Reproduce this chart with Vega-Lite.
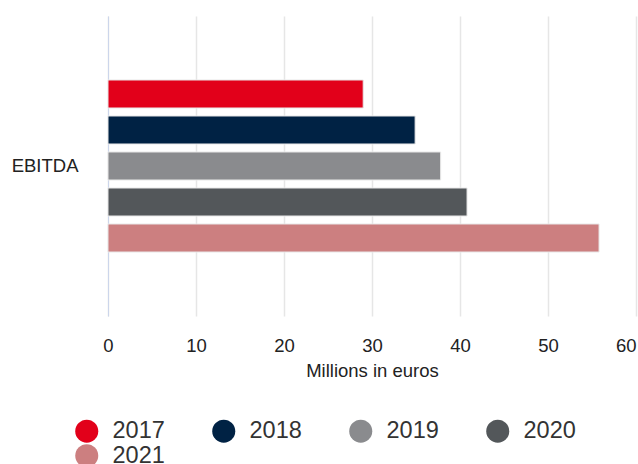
{
  "$schema": "https://vega.github.io/schema/vega-lite/v6.json",
  "width": 528,
  "height": 300,
  "autosize": {"type": "none"},
  "padding": {"left": 108, "top": 16, "right": 2, "bottom": 148},
  "background": "white",
  "config": {
    "font": "Liberation Sans",
    "view": {"stroke": null}
  },
  "data": {
    "values": [
      {"metric": "EBITDA", "year": "2017", "value": 29.0},
      {"metric": "EBITDA", "year": "2018", "value": 34.9},
      {"metric": "EBITDA", "year": "2019", "value": 37.8},
      {"metric": "EBITDA", "year": "2020", "value": 40.8},
      {"metric": "EBITDA", "year": "2021", "value": 55.8}
    ]
  },
  "mark": {"type": "bar", "stroke": "#e8e8e8", "strokeWidth": 1},
  "encoding": {
    "y": {
      "field": "metric",
      "type": "nominal",
      "scale": {"paddingInner": 0, "paddingOuter": 0.3333},
      "axis": {
        "title": null,
        "ticks": false,
        "domain": true,
        "domainColor": "#ccd6eb",
        "domainWidth": 1,
        "labelFontSize": 18.5,
        "labelColor": "#222",
        "labelPadding": 30
      }
    },
    "yOffset": {
      "field": "year",
      "type": "nominal",
      "scale": {"paddingInner": 0.2222, "paddingOuter": 0.1111}
    },
    "x": {
      "field": "value",
      "type": "quantitative",
      "scale": {"domain": [0, 60], "nice": false},
      "axis": {
        "title": "Millions in euros",
        "values": [0, 10, 20, 30, 40, 50, 60],
        "domain": false,
        "ticks": false,
        "grid": true,
        "gridColor": "#e6e6e6",
        "gridWidth": 1.5,
        "labelFlush": false,
        "labelAlign": {"expr": "datum.value === 60 ? 'right' : 'center'"},
        "labelFontSize": 18.5,
        "labelColor": "#222",
        "labelPadding": 20,
        "titleFontSize": 18.5,
        "titleFontWeight": "normal",
        "titleColor": "#222",
        "titlePadding": 7
      }
    },
    "color": {
      "field": "year",
      "type": "nominal",
      "scale": {
        "domain": ["2017", "2018", "2019", "2020", "2021"],
        "range": ["#e2001a", "#002244", "#8a8b8e", "#53575a", "#cc7f80"]
      },
      "legend": {
        "title": null,
        "orient": "none",
        "legendX": -33,
        "legendY": 403,
        "direction": "horizontal",
        "columns": 4,
        "symbolType": "circle",
        "symbolSize": 529,
        "symbolStrokeWidth": 0,
        "symbolOpacity": 1,
        "labelFontSize": 23.5,
        "labelColor": "#333",
        "labelOffset": 14,
        "columnPadding": 47,
        "rowPadding": 0
      }
    }
  }
}
